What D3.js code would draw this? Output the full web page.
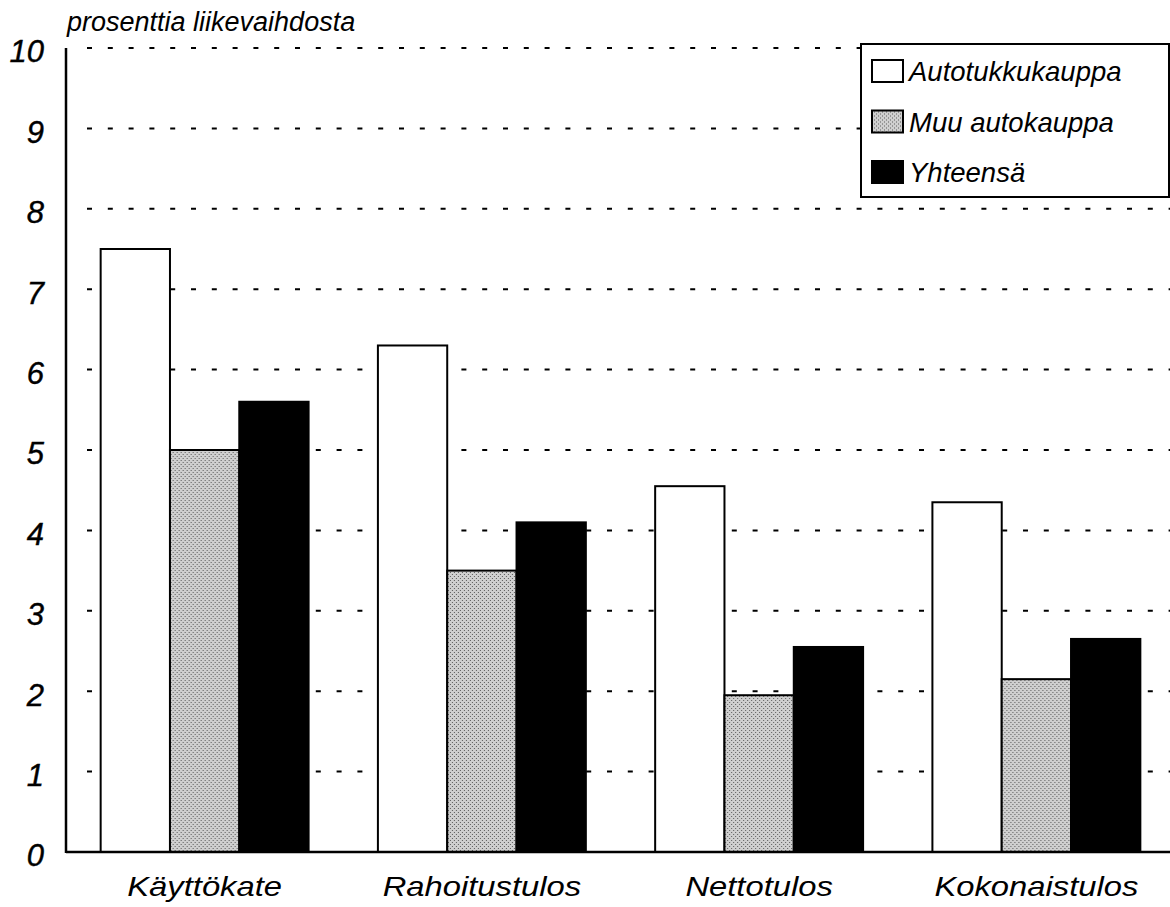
<!DOCTYPE html>
<html lang="fi">
<head>
    <meta charset="UTF-8">
    <title>prosenttia liikevaihdosta</title>
    <script src="https://d3js.org/d3.v7.min.js"></script>
    <style>
        body, html {
            margin: 0;
            background-color: #fff;
            overflow: hidden;
        }
        svg text {
            font-family: 'Liberation Sans', Arial, sans-serif;
            font-style: italic;
            fill: #000;
        }
    </style>
</head>
<body>
<svg id="chart" width="1170" height="907"></svg>

<script>
    // data
    const categories = ['Käyttökate', 'Rahoitustulos', 'Nettotulos', 'Kokonaistulos'];
    const seriesNames = ['Autotukkukauppa', 'Muu autokauppa', 'Yhteensä'];
    const autotukku = [7.5, 6.3, 4.55, 4.35];
    const muuAuto = [5.0, 3.5, 1.95, 2.15];
    const yhteensa = [5.6, 4.1, 2.55, 2.65];
    const yTicks = [0, 1, 2, 3, 4, 5, 6, 7, 8, 9, 10];
    const yTitle = 'prosenttia liikevaihdosta';

    const seriesValues = [autotukku, muuAuto, yhteensa];
    const fills = ['#fff', 'url(#stipple)', '#000'];

    const svg = d3.select('#chart');

    // stippled grey for the middle series
    const pat = svg.append('defs').append('pattern')
        .attr('id', 'stipple')
        .attr('patternUnits', 'userSpaceOnUse')
        .attr('width', 4).attr('height', 4);
    pat.append('rect').attr('width', 4).attr('height', 4).attr('fill', '#cfcfcf');
    pat.append('rect').attr('x', 0).attr('y', 0).attr('width', 1).attr('height', 1).attr('fill', '#5a5a5a');
    pat.append('rect').attr('x', 2).attr('y', 2).attr('width', 1).attr('height', 1).attr('fill', '#5a5a5a');

    const plotLeft = 66, plotRight = 1175, plotTop = 48, plotBottom = 852;

    const y = d3.scaleLinear().domain([0, 10]).range([plotBottom, plotTop]);
    const x0 = d3.scaleBand().domain(categories).range([plotLeft, plotRight])
        .paddingInner(0.25).paddingOuter(0.125);
    const x1 = d3.scaleBand().domain(seriesNames).range([0, x0.bandwidth()]);

    // dashed grid
    svg.append('g')
        .selectAll('line')
        .data(yTicks.filter(d => d > 0))
        .join('line')
        .attr('x1', plotLeft + 21)
        .attr('x2', 1170)
        .attr('y1', d => y(d))
        .attr('y2', d => y(d))
        .attr('stroke', '#000')
        .attr('stroke-width', 2)
        .attr('stroke-dasharray', '5 15.8');

    // bars
    const groups = svg.append('g')
        .selectAll('g')
        .data(categories)
        .join('g')
        .attr('transform', d => `translate(${x0(d)},0)`);

    groups.selectAll('rect')
        .data((c, ci) => seriesNames.map((s, si) => ({ s, si, v: seriesValues[si][ci] })))
        .join('rect')
        .attr('x', d => x1(d.s))
        .attr('width', x1.bandwidth())
        .attr('y', d => y(d.v))
        .attr('height', d => y(0) - y(d.v))
        .attr('fill', d => fills[d.si])
        .attr('stroke', '#000')
        .attr('stroke-width', 2);

    // y tick labels
    const yAxis = svg.append('g')
        .attr('transform', `translate(${plotLeft - 22},0)`)
        .call(d3.axisLeft(y).tickValues(yTicks).tickSize(0).tickPadding(0));
    yAxis.select('.domain').remove();
    yAxis.selectAll('text')
        .attr('font-size', 31)
        .attr('font-family', null)
        .attr('stroke', '#000')
        .attr('stroke-width', 0.4)
        .attr('dy', '0.45em');

    // axis lines
    svg.append('line')
        .attr('x1', plotLeft).attr('x2', plotLeft)
        .attr('y1', plotTop).attr('y2', plotBottom + 1)
        .attr('stroke', '#000').attr('stroke-width', 2.5);
    svg.append('line')
        .attr('x1', plotLeft).attr('x2', 1170)
        .attr('y1', plotBottom).attr('y2', plotBottom)
        .attr('stroke', '#000').attr('stroke-width', 2.5);

    // category labels (the original type is a little wider than Arial)
    svg.append('g')
        .selectAll('text')
        .data(categories)
        .join('text')
        .attr('transform', d => `translate(${x0(d) + x0.bandwidth() / 2},896) scale(1.17,1)`)
        .attr('text-anchor', 'middle')
        .attr('font-size', 28)
        .text(d => d);

    // title
    svg.append('text')
        .attr('x', 67)
        .attr('y', 31)
        .attr('font-size', 27)
        .text(yTitle);

    // legend
    const lg = svg.append('g').attr('transform', 'translate(861,44)');
    lg.append('rect')
        .attr('width', 308).attr('height', 153)
        .attr('fill', '#fff').attr('stroke', '#000').attr('stroke-width', 2);
    const items = lg.selectAll('g')
        .data(seriesNames)
        .join('g')
        .attr('transform', (d, i) => `translate(11,${27 + i * 50.5})`);
    items.append('rect')
        .attr('y', -11)
        .attr('width', 31).attr('height', 22)
        .attr('fill', (d, i) => fills[i])
        .attr('stroke', '#000').attr('stroke-width', 2);
    items.append('text')
        .attr('x', 37)
        .attr('y', 10)
        .attr('font-size', 27.5)
        .text(d => d);
</script>
</body>
</html>
